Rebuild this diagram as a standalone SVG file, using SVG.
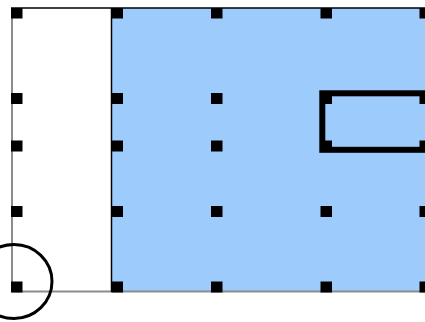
<svg xmlns="http://www.w3.org/2000/svg" width="425" height="322" viewBox="0 0 425 322">
<style>
.pt{fill:#000}
.thin{fill:none;stroke:#000;stroke-width:1.5}
.gray{fill:none;stroke:#8c8c8c;stroke-width:2}
</style>
<rect width="425" height="322" fill="#fff"/>
<g id="blue-area">
<rect x="111.5" y="8" width="320" height="283.5" fill="#9ccbfc"/>
</g>
<g id="connectors">
<line class="thin" x1="11" y1="8" x2="425" y2="8"/>
<line class="gray" x1="12" y1="8" x2="12" y2="292"/>
<line class="gray" x1="12" y1="291.5" x2="425" y2="291.5"/>
<line class="thin" x1="111.5" y1="8" x2="111.5" y2="292"/>
</g>
<g id="points">
<rect class="pt" x="11" y="8" width="11.5" height="10.5"/>
<rect class="pt" x="111.5" y="8" width="11.5" height="10.5"/>
<rect class="pt" x="211" y="8" width="11.5" height="10.5"/>
<rect class="pt" x="320.5" y="8" width="11.5" height="10.5"/>
<rect class="pt" x="419.5" y="8" width="11.5" height="10.5"/>
<rect class="pt" x="11" y="93" width="11.5" height="11"/>
<rect class="pt" x="111.5" y="93" width="11.5" height="11"/>
<rect class="pt" x="211" y="93" width="11.5" height="11"/>
<rect class="pt" x="320.5" y="93" width="11.5" height="11"/>
<rect class="pt" x="419.5" y="93" width="11.5" height="11"/>
<rect class="pt" x="11" y="140.5" width="11.5" height="11"/>
<rect class="pt" x="111.5" y="140.5" width="11.5" height="11"/>
<rect class="pt" x="211" y="140.5" width="11.5" height="11"/>
<rect class="pt" x="320.5" y="140.5" width="11.5" height="11"/>
<rect class="pt" x="419.5" y="140.5" width="11.5" height="11"/>
<rect class="pt" x="11" y="206" width="11.5" height="11"/>
<rect class="pt" x="111.5" y="206" width="11.5" height="11"/>
<rect class="pt" x="211" y="206" width="11.5" height="11"/>
<rect class="pt" x="320.5" y="206" width="11.5" height="11"/>
<rect class="pt" x="419.5" y="206" width="11.5" height="11"/>
<rect class="pt" x="11" y="281.5" width="11.5" height="11"/>
<rect class="pt" x="111.5" y="281.5" width="11.5" height="11"/>
<rect class="pt" x="211" y="281.5" width="11.5" height="11"/>
<rect class="pt" x="320.5" y="281.5" width="11.5" height="11"/>
<rect class="pt" x="419.5" y="281.5" width="11.5" height="11"/>
</g>
<g id="opening">
<rect x="322.3" y="93.3" width="110" height="56.5" fill="none" stroke="#000" stroke-width="6"/>
</g>
<g id="highlight-circle">
<ellipse cx="14" cy="281.5" rx="38" ry="37" fill="none" stroke="#000" stroke-width="3"/>
</g>
</svg>
